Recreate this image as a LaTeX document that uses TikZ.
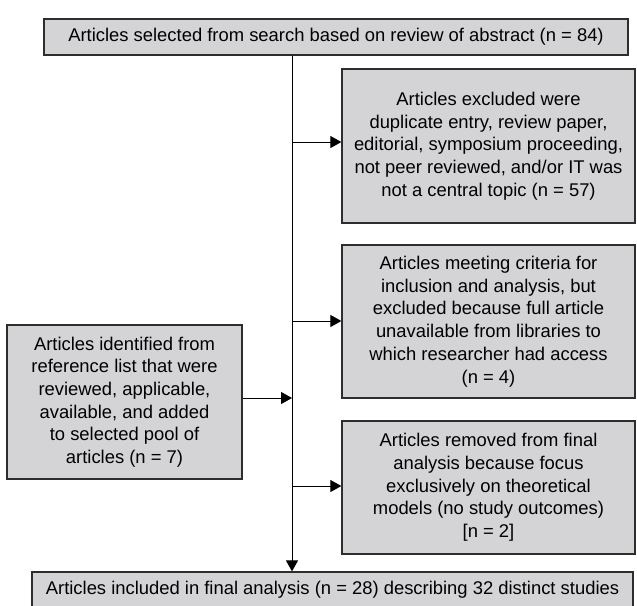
\documentclass[tikz,border=0pt]{standalone}
\usepackage{fontspec}
\setmainfont{Liberation Sans}
\usetikzlibrary{arrows.meta}
\definecolor{boxgray}{RGB}{212,212,214}
\definecolor{edgegray}{RGB}{45,45,45}

\begin{document}
\begin{tikzpicture}[x=1pt,y=-1pt,
    box/.style={draw=edgegray,fill=boxgray,line width=1.3pt,align=center,
        inner sep=0pt,font=\fontsize{18.4}{22.7}\selectfont},
    arr/.style={-{Triangle[length=11pt,width=12pt]},line width=1pt}]
\useasboundingbox (0,0) rectangle (637,605);
% boxes
\node[box,minimum width=584,minimum height=36] (sel) at (336,37)
    {Articles selected from search based on review of abstract (n = 84)};
\node[box,minimum width=293,minimum height=154] (excl) at (488.5,146)
    {Articles excluded were\\duplicate entry, review paper,\\editorial, symposium proceeding,\\not peer reviewed, and/or IT was\\not a central topic (n = 57)};
\node[box,minimum width=293,minimum height=153] (unav) at (488.5,321.5)
    {Articles meeting criteria for\\inclusion and analysis, but\\excluded because full article\\unavailable from libraries to\\which researcher had access\\(n = 4)};
\node[box,minimum width=293,minimum height=133] (theo) at (488.5,487.5)
    {Articles removed from final\\analysis because focus\\exclusively on theoretical\\models (no study outcomes)\\{[n = 2]}};
\node[box,minimum width=235,minimum height=154] (refl) at (124.5,402)
    {Articles identified from\\reference list that were\\reviewed, applicable,\\available, and added\\to selected pool of\\articles (n = 7)};
\node[box,minimum width=601,minimum height=36] (final) at (332.5,590)
    {Articles included in final analysis (n = 28) describing 32 distinct studies};
% spine and arrows
\coordinate (spine) at (292,0);
\coordinate (j1) at (292,142);
\coordinate (j2) at (292,321);
\coordinate (j3) at (292,486);
\draw[arr] (sel.south -| spine) -- (final.north -| spine);
\draw[arr] (j1) -- (j1 -| excl.west);
\draw[arr] (j2) -- (j2 -| unav.west);
\draw[arr] (j3) -- (j3 -| theo.west);
\draw[arr] (refl.east |- 0,398) -- (spine |- 0,398);
\end{tikzpicture}
\end{document}
